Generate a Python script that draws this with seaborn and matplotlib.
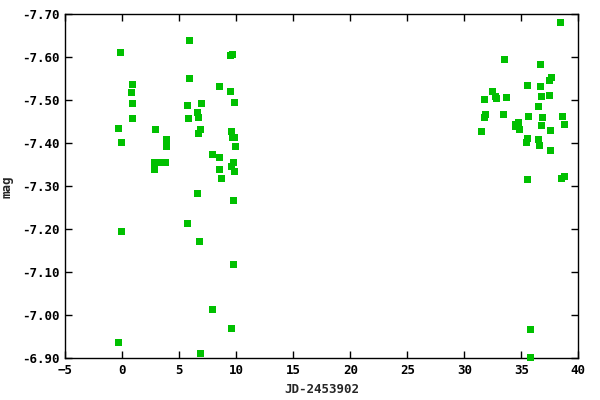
import pandas as pd
import seaborn as sns
import matplotlib.pyplot as plt
from matplotlib.ticker import FormatStrFormatter

# Values
jd = [-0.18, 5.88, 9.47, 9.65, 0.88, 5.88, 8.51, 0.79, 9.47, 0.88,
      5.70, 6.93, 9.82, 6.58, 6.67, 5.79, 0.88, -0.35, 2.89, 6.84,
      6.67, 9.56, 9.65, 9.82, -0.09, 3.86, 3.86, 9.91, 7.89, 8.51,
      2.81, 3.48, 3.77, 9.74, 9.56, 2.81, 8.51, 9.82, 8.68, 6.58,
      9.74, 5.70, -0.09, 6.75, 9.74, 7.89, 9.56, -0.35, 6.84,
      38.42, 33.51, 36.67, 37.63, 37.46, 35.53, 36.67, 32.46, 36.75, 37.46,
      32.72, 32.81, 33.68, 31.75, 36.49, 31.84, 31.75, 33.42, 35.61, 36.84,
      38.60, 34.74, 34.47, 34.47, 34.82, 36.75, 38.77, 31.49, 37.54, 35.53,
      35.44, 36.49, 36.58, 37.54, 35.53, 38.51, 38.77, 35.79, 35.79]
mag = [-7.612, -7.640, -7.605, -7.607, -7.537, -7.551, -7.533, -7.519, -7.521, -7.493,
       -7.488, -7.493, -7.495, -7.472, -7.460, -7.458, -7.458, -7.435, -7.433, -7.433,
       -7.423, -7.428, -7.414, -7.414, -7.402, -7.409, -7.393, -7.393, -7.374, -7.367,
       -7.356, -7.356, -7.356, -7.356, -7.347, -7.340, -7.340, -7.335, -7.319, -7.284,
       -7.267, -7.214, -7.195, -7.172, -7.119, -7.014, -6.970, -6.937, -6.912,
       -7.681, -7.595, -7.584, -7.553, -7.547, -7.535, -7.533, -7.521, -7.509, -7.512,
       -7.509, -7.505, -7.507, -7.502, -7.486, -7.467, -7.460, -7.467, -7.463, -7.460,
       -7.463, -7.449, -7.444, -7.440, -7.433, -7.442, -7.444, -7.428, -7.430, -7.412,
       -7.402, -7.409, -7.395, -7.384, -7.316, -7.319, -7.323, -6.967, -6.902]

df = pd.DataFrame({'JD': jd, 'mag': mag})

sns.set_style('ticks')
plt.rcParams['font.family'] = ['DejaVu Sans Mono']
plt.rcParams['font.weight'] = 'bold'

fig = plt.figure(figsize=(6, 4), dpi=100)
ax = fig.add_axes([0.1088, 0.104, 0.855, 0.86])

sns.scatterplot(data=df, x='JD', y='mag', marker='s', s=26, color='#00c000',
                edgecolor='none', linewidth=0, ax=ax, clip_on=False, zorder=3)

ax.set_xlim(-5, 40)
ax.set_ylim(-6.90, -7.70)
ax.set_xticks(range(-5, 41, 5))
ax.set_yticks([-6.9, -7.0, -7.1, -7.2, -7.3, -7.4, -7.5, -7.6, -7.7])
ax.yaxis.set_major_formatter(FormatStrFormatter('%.2f'))
ax.tick_params(direction='in', length=5, width=1, top=True, right=True,
               labelsize=9, colors='black', pad=4)
for sp in ax.spines.values():
    sp.set_visible(True)
    sp.set_color('black')
    sp.set_linewidth(1)

ax.set_xlabel('JD-2453902', fontsize=9, fontweight='bold', labelpad=4)
ax.set_ylabel('mag', fontsize=9, fontweight='bold', labelpad=6)

fig.savefig('out.png', dpi=100)
